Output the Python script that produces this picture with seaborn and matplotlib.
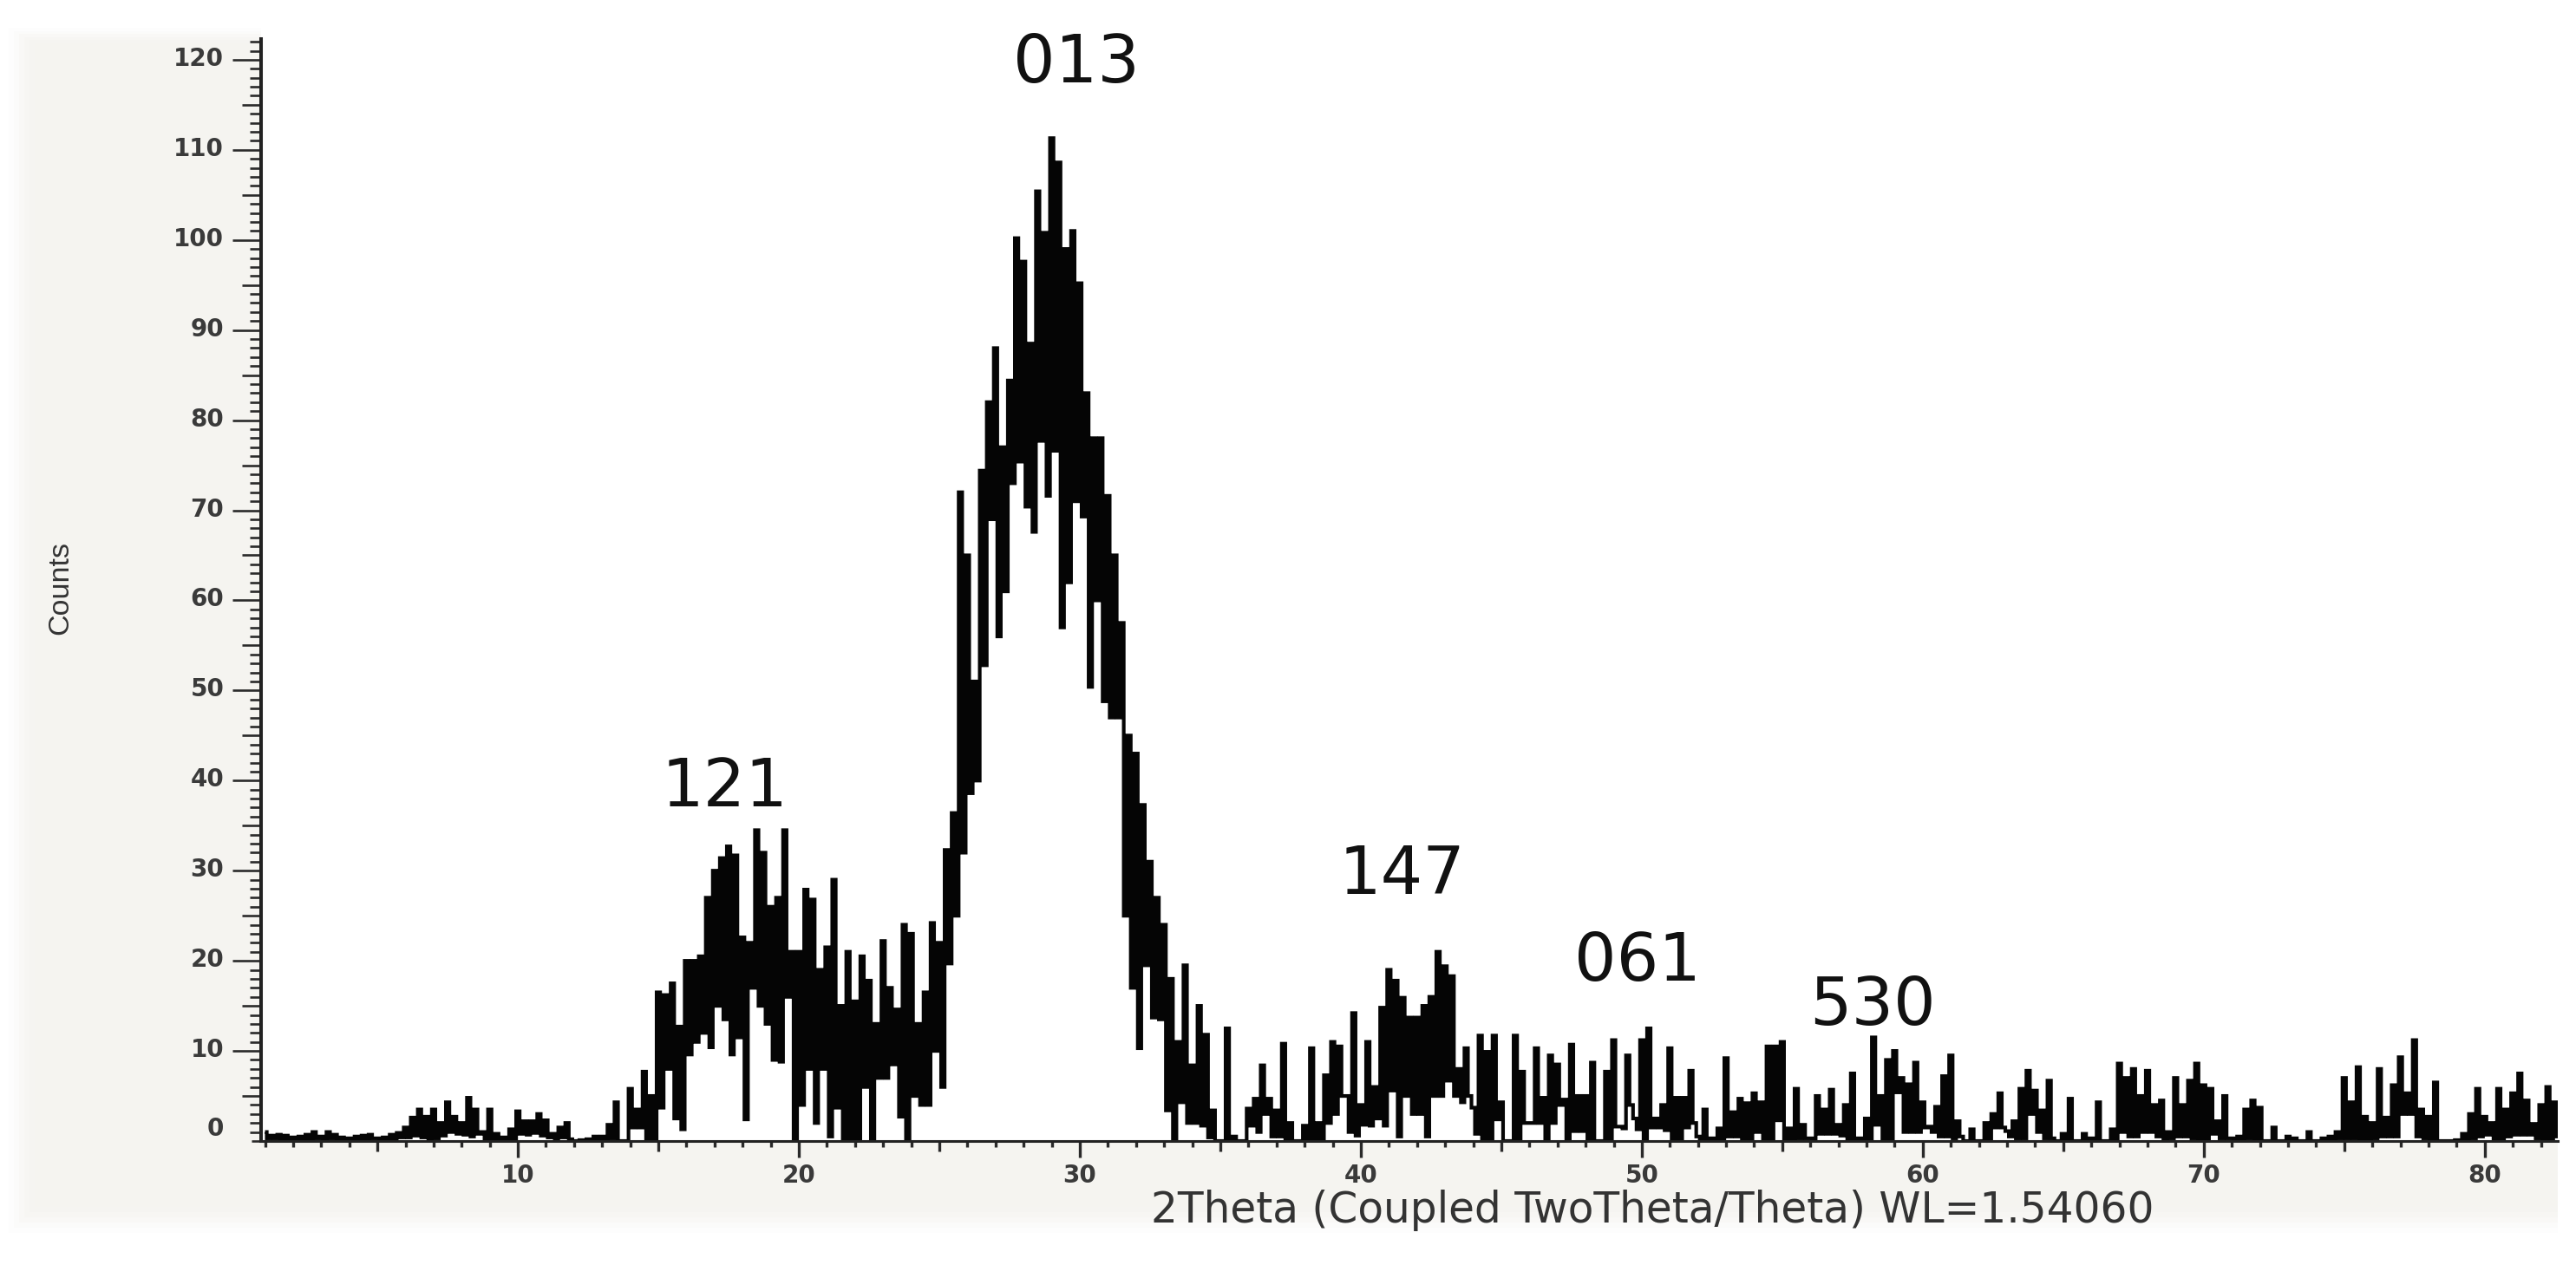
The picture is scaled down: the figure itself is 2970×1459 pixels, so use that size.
import numpy as np
import matplotlib
matplotlib.use("Agg")
import matplotlib.pyplot as plt
from matplotlib.patches import Rectangle
from matplotlib.ticker import MultipleLocator
from matplotlib.transforms import Affine2D
import seaborn as sns

START_ANGLE = 1.0
HALF_STEP = 0.125

# upper reading of each 0.25 degree interval, one row per degree from 1 to 82
peak_counts = [
    1.0,.6,.7,.6, .4,.5,.7,1.0, .5,1.0,.7,.4, .3,.5,.6,.7, .3,.4,.7,.9,
    1.5,2.6,3.5,2.7, 3.5,2.0,4.3,2.7, 2.0,4.8,3.5,1.0, 3.5,.8,.4,1.3,
    3.3,2.2,2.2,3.0, 2.3,.8,1.5,2.0, 0,.1,.2,.5, .5,1.8,4.3,0,
    5.8,3.5,7.7,5, 16.5,16.2,17.5,12.7, 20,20,20.5,27, 30,31.4,32.7,31.7,
    22.6,22,34.5,32, 26,27,34.5,21, 21,27.9,26.8,19, 21.5,29,15,21,
    15.5,20.5,17.8,13, 22.2,17,14.6,24, 23,13,16.5,24.2, 22,32.3,36.4,72,
    65,51,74.4,82, 88,77,84.4,100.2, 97.6,88.5,105.4,100.8, 111.3,108.6,99,101,
    95.2,83,78,78, 71.6,65,57.5,45, 43,37.3,31,27, 24,18,11,19.5,
    8.4,15,11.8,3.4, 0,12.5,.5,0, 3.6,4.7,8.4,4.7, 3.4,10.8,2,0,
    1.7,10.3,2,7.3, 11,10.5,5,14.2, 4,11,6,14.8, 19,17.8,15.9,13.7,
    13.7,15,16,21, 19.4,18.3,8,10.3, 3.7,11.7,9.9,11.7, 4.3,0,11.7,7.7,
    2,10.3,4.8,9.5, 8.5,4.6,10.7,5, 5,8.7,0,7.7, 11.2,1.6,9.5,2.5,
    11.2,12.5,2.5,4, 10.3,4.8,4.8,7.8, .5,3.5,.3,1.4, 9.2,3.2,4.7,4.2,
    5.3,4.3,10.5,10.5, 11,1.4,5.8,1.8, .3,5,3.5,5.7, 1.8,4,7.5,.3,
    2.5,11.5,5,9, 10,7,6.3,8.7, 4.3,1.6,3.8,7.2, 9.5,2.2,0,1.3,
    0,2,3,5.3, 1.1,2.2,5.8,7.8, 5.6,3.4,6.7,0, .8,4.7,0,.8,
    .3,4.3,0,1.3, 8.6,7,8,5, 7.8,4,4.5,1, 7,4,6.7,8.6,
    6.2,5.8,2.2,5, .3,.5,3.5,4.5, 3.7,0,1.5,0, .5,.3,0,1,
    0,.3,.5,1, 7,4.3,8.2,2.7, 2,8,2.6,6.2, 9.3,5.3,11.2,3.5,
    2.7,6.5,0,0, .1,.8,3,5.8, 2.7,2,5.8,3.5, 5.3,7.5,4.5,1.9,
    4,6,4.3,
]

# lower reading between neighbouring upper readings
trough_counts = [
    .3,.3,.2,.2, .2,.2,.2,.3, .2,.3,.2,.1, .1,.2,.2,.3, .1,.1,.2,.4,
    .4,.6,.4,.2, .3,.6,1.0,.8, .7,.5,.8,.2, .2,.1,.1,.2,
    .8,.7,.9,.6, .4,.1,.4,.2, 0,0,0,0, 0,.3,0,0,
    1.5,1.5,0,0, 3.7,8,2.5,1.3, 9.6,11,12,10.4, 15,13.5,9.6,11.5,
    2.4,17,15,13, 9,8.8,16,0, 4,8,2,8, .5,3.7,0,0,
    0,6,0,7, 7,8.5,2.7,0, 5,4,4,10, 6,19.7,25,32,
    38.6,40,52.8,69, 56,61,73,75.4, 70.4,67.6,77.7,71.6, 76.6,57,62,71,
    69.3,50.4,60,48.8, 47,47,25,17, 10.3,19.5,13.7,13.5, 3.4,0,4.3,2,
    2,1.7,.4,0, 0,0,0,0, 1.7,1,3,.5, .5,0,0,0,
    0,0,0,2, 3,5,1,.6, 1.8,1.7,2.5,1.7, 5.6,.5,5,3,
    3,.5,5,5, 6.7,5,4.3,5, .8,0,0,2.4, 0,0,0,2,
    2,2,0,2, 4,0,1.1,1.1, 0,0,0,0, 1.6,1.4,4,1.3,
    0,1.5,1.5,1.2, 0,0,1.5,2, 0,0,0,.2, .5,.5,0,0,
    1,0,0,2.3, 0,0,.3,.3, 0,.8,.8,.8, .6,0,0,0,
    0,1.8,0,0, 5.4,1,1,1, 1.5,1,.5,.5, .3,.5,0,0,
    0,0,1.5,1.5, .5,.3,.3,3, 1,.3,.3,0, .2,0,0,0,
    0,0,0,0, 1,.5,.5,1, 1,.5,0,.3, .5,.5,.3,.2,
    .2,.8,.3,.3, 0,0,.3,0, 0,0,0,0, 0,0,0,0,
    0,0,.2,.3, .3,.3,0,0, .3,.5,.5,.5, 3,3,.5,.3,
    0,0,0,0, 0,.1,.3,.5, .7,0,.2,.5, .7,.7,.7,.3,
    .2,.2,.5,
]

reflection_labels = ["121", "013", "147", "061", "530"]
reflection_angles = [17.35, 29.86, 41.48, 49.85, 58.2]
reflection_heights = [39.2, 119.5, 29.4, 19.8, 14.9]

x_tick_values = [10, 20, 30, 40, 50, 60, 70, 80]
y_tick_values = list(range(0, 121, 10))

sns.set_theme(style="white")
plt.rcParams["font.family"] = ["DejaVu Sans"]

W, H = 2970, 1459
fig = plt.figure(figsize=(W / 100, H / 100), dpi=100, facecolor="white")

# soft-edged grey panel behind the plot
panel_colour = "#f5f4f0"
for grow, alpha in zip([30, 24, 18, 12, 6, 0], [0.12, 0.2, 0.3, 0.45, 0.65, 1.0]):
    x0, y0, x1, y1 = 40 - grow, 50 - grow * 0.6, 2949, 1392 + grow
    fig.add_artist(Rectangle((x0 / W, 1 - y1 / H), (x1 - x0) / W, (y1 - y0) / H,
                             transform=fig.transFigure, facecolor=panel_colour,
                             edgecolor="none", alpha=alpha, zorder=-5))
# the area above the plot area stays white
fig.add_artist(Rectangle((301 / W, 1 - 46 / H), (W - 301) / W, 46 / H,
                         transform=fig.transFigure, facecolor="white",
                         edgecolor="none", zorder=-4))

ax = fig.add_axes([301 / W, 1 - 1316 / H, (2949 - 301) / W, (1316 - 45) / H],
                  facecolor="white")

trace = np.column_stack([peak_counts, trough_counts]).ravel()
two_theta = START_ANGLE + HALF_STEP * np.arange(trace.size)

sns.lineplot(x=two_theta, y=trace, ax=ax, color="#050505", linewidth=3.0,
             estimator=None, errorbar=None, sort=False, drawstyle="steps-mid",
             solid_joinstyle="miter", solid_capstyle="butt", clip_on=True)

ax.set_xlim(0.86, 82.6)
ax.set_ylim(0, 122.3)

tick_colour = "#2a2a2a"
ax.xaxis.set_major_locator(MultipleLocator(10))
ax.xaxis.set_minor_locator(MultipleLocator(1))
ax.yaxis.set_major_locator(MultipleLocator(10))
ax.yaxis.set_minor_locator(MultipleLocator(1))
ax.set_xticks(x_tick_values)
ax.set_yticks(y_tick_values)
ax.tick_params(axis="x", which="major", bottom=True, length=13.7, width=2.4, color=tick_colour,
               labelsize=20, labelcolor="#3a3a3a", pad=5)
ax.tick_params(axis="x", which="minor", bottom=True, length=5, width=2.4, color=tick_colour)
ax.tick_params(axis="y", which="major", left=True, length=23.8, width=1.9, color=tick_colour,
               labelsize=20, labelcolor="#3a3a3a", pad=7)
ax.tick_params(axis="y", which="minor", left=True, length=9.4, width=1.9, color=tick_colour)
for text in ax.get_xticklabels() + ax.get_yticklabels():
    text.set_fontweight("bold")

fig.canvas.draw()
for tick, loc in zip(ax.xaxis.get_minor_ticks(), ax.xaxis.get_minorticklocs()):
    if abs(loc % 5) < 1e-6:
        tick.tick1line.set_markersize(8.6)
for tick, loc in zip(ax.yaxis.get_minor_ticks(), ax.yaxis.get_minorticklocs()):
    if abs(loc % 5) < 1e-6:
        tick.tick1line.set_markersize(15.8)

for tick, value in zip(ax.yaxis.get_major_ticks(), ax.get_yticks()):
    shift = 17 if value == 0 else 4
    tick.label1.set_transform(tick.label1.get_transform() + Affine2D().translate(0, shift))
    if value == 0:
        tick.tick1line.set_markersize(8)

for side in ["top", "right"]:
    ax.spines[side].set_visible(False)
ax.spines["left"].set_linewidth(2.9)
ax.spines["left"].set_color("#222222")
ax.spines["bottom"].set_linewidth(2.2)
ax.spines["bottom"].set_color("#222222")

ax.set_xlabel("2Theta (Coupled TwoTheta/Theta) WL=1.54060", fontsize=35, color="#333333",
              va="center", family="DejaVu Sans")
ax.xaxis.set_label_coords(0.606, -0.063)
ax.set_ylabel("Counts", fontsize=24.5, color="#333333", va="center", family="Liberation Sans")
ax.yaxis.set_label_coords(-0.0872, 0.502)

for label, angle, height in zip(reflection_labels, reflection_angles, reflection_heights):
    ax.text(angle, height, label, ha="center", va="center", fontsize=55, color="#111111",
            family="DejaVu Sans", clip_on=False)

fig.savefig("out.png", dpi=100, facecolor="white")
